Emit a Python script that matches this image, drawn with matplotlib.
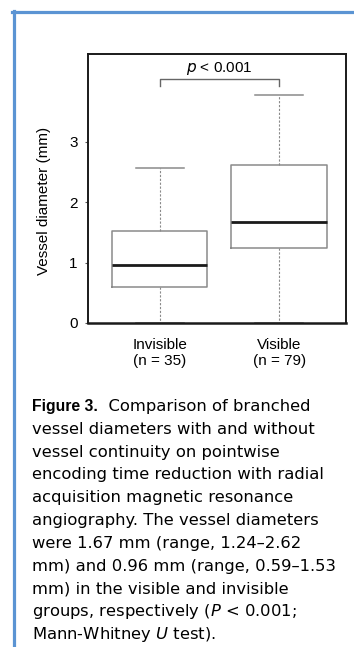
import matplotlib.pyplot as plt
from matplotlib.lines import Line2D

plt.rcParams['font.family'] = ['Liberation Sans', 'DejaVu Sans']
plt.rcParams['mathtext.fontset'] = 'custom'
plt.rcParams['mathtext.rm'] = 'DejaVu Sans'
plt.rcParams['mathtext.it'] = 'DejaVu Sans:italic'

# values (mm)
groups = ['Invisible', 'Visible']
n_counts = [35, 79]
medians = [0.96, 1.67]
q1 = [0.59, 1.24]
q3 = [1.53, 2.62]
whisker_lo = [0.0, 0.0]
whisker_hi = [2.56, 3.78]
p_text = '$p$ < 0.001'
y_ticks = [0, 1, 2, 3]

caption_lines = [
    'vessel diameters with and without',
    'vessel continuity on pointwise',
    'encoding time reduction with radial',
    'acquisition magnetic resonance',
    'angiography. The vessel diameters',
    'were 1.67 mm (range, 1.24\u20132.62',
    'mm) and 0.96 mm (range, 0.59\u20131.53',
    'mm) in the visible and invisible',
    'groups, respectively ($P$ < 0.001;',
    'Mann-Whitney $U$ test).',
]

W, H = 354, 647
fig = plt.figure(figsize=(W / 100, H / 100), dpi=100)
ax = fig.add_axes([88 / W, 1 - 323 / H, (346 - 88) / W, (323 - 54) / H])

stats = []
for i in range(len(groups)):
    stats.append({'med': medians[i], 'q1': q1[i], 'q3': q3[i],
                  'whislo': whisker_lo[i], 'whishi': whisker_hi[i],
                  'fliers': [], 'label': f'{groups[i]}\n(n = {n_counts[i]})'})

box_col = '#8a8a8a'
ax.bxp(stats, positions=[1, 2], widths=0.8, capwidths=0.4, showfliers=False,
       boxprops=dict(color=box_col, linewidth=1.1),
       medianprops=dict(color='#1a1a1a', linewidth=2.0),
       whiskerprops=dict(color=box_col, linewidth=0.8, linestyle=(0, (2, 1.5))),
       capprops=dict(color=box_col, linewidth=1.1))

ax.set_xlim(0.4, 2.56)
ax.set_ylim(0, 4.45)
ax.set_yticks(y_ticks)
ax.tick_params(axis='y', length=2.5, width=0.8, color='#555555', labelsize=11, pad=5)
ax.tick_params(axis='x', length=0, labelsize=11, pad=11)
ax.set_ylabel('Vessel diameter (mm)', fontsize=11)
ax.yaxis.set_label_coords(-0.143, 0.454)

for s in ax.spines.values():
    s.set_color('#1a1a1a')
    s.set_linewidth(1.4)
ax.spines['bottom'].set_linewidth(1.8)

# significance bracket
ax.plot([1, 1, 2, 2], [3.92, 4.04, 4.04, 3.92], color='#666666', lw=1)
ax.text(1.5, 4.07, p_text, ha='center', va='bottom', fontsize=11,
        family='Liberation Sans')

# caption
x0 = 32 / W
cap_font = 'DejaVu Sans'
cap_size = 11.8
y_first = 1 - 411 / H
first = fig.text(x0, y_first, 'Figure 3.', fontsize=11.3, fontweight='bold',
                 va='baseline', ha='left')
renderer = fig.canvas.get_renderer()
bb = first.get_window_extent(renderer)
fig.text(bb.x1 / fig.bbox.width, y_first, '  Comparison of branched',
         fontsize=cap_size, family=cap_font, va='baseline', ha='left')
for k, line in enumerate(caption_lines):
    fig.text(x0, 1 - (411 + 22.8 * (k + 1)) / H, line, fontsize=cap_size,
             family=cap_font, va='baseline', ha='left')

# blue frame lines
blue = '#5b94d3'
fig.add_artist(Line2D([13.5 / W, 13.5 / W], [0, 1 - 11 / H], color=blue, lw=2.3))
fig.add_artist(Line2D([12.3 / W, 1], [1 - 12 / H, 1 - 12 / H], color=blue, lw=2.3))

fig.savefig('out.png', dpi=100)
